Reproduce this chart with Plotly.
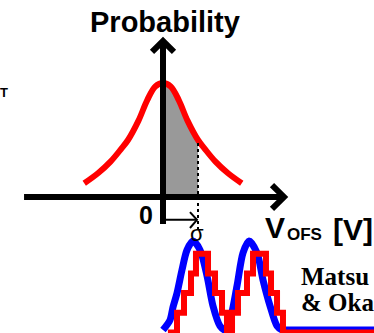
import plotly.graph_objects as go

# ---------------- Data ----------------
# Probability distribution of the offset voltage: V_OFS in units of sigma, relative probability
vofs_sigma = [-2.25, -1.85, -1.5, -1.2, -1.0, -0.7, -0.45, -0.22, 0.0,
              0.22, 0.45, 0.7, 1.0, 1.2, 1.5, 1.85, 2.25]
probability = [0.12, 0.21, 0.31, 0.42, 0.5, 0.67, 0.85, 0.97, 1.0,
               0.97, 0.85, 0.67, 0.5, 0.42, 0.31, 0.21, 0.12]
sigma = 1.0

# Analog waveform (blue) and its quantized staircase (red): time [a.u.], level [LSB]
t_analog = [0.0, 1.0, 1.43, 2.0, 2.71, 3.43, 4.29, 5.29, 6.29, 7.14, 8.14, 8.86,
            9.57, 10.57, 11.43, 12.29, 13.43, 14.29, 15.29, 16.29, 17.0, 18.0, 30.2]
v_analog = [0.13, 0.63, 1.29, 2.0, 3.17, 4.19, 4.64, 4.19, 2.87, 1.35, 0.33, 0.13,
            0.63, 2.36, 4.04, 4.64, 4.04, 2.66, 1.35, 0.33, 0.13, 0.13, 0.13]
t_steps = [0.7, 2.0, 3.0, 4.0, 4.71, 6.43, 7.43, 8.43, 9.14, 9.86, 10.71, 12.0,
           12.86, 14.71, 15.43, 16.29, 17.14, 30.2]
v_steps = [0, 1, 2, 3, 4, 3, 2, 1, 0, 1, 2, 3, 4, 3, 2, 1, 0, 0]

# ---------------- Figure ----------------
W, H = 374, 333
BLACK, RED, BLUE, GRAY = "#000000", "#FF0000", "#0000FF", "#999999"
SANS = "Liberation Sans, Arial, sans-serif"
SERIF = "Liberation Serif, Times New Roman, serif"

shade_x = [v for v in vofs_sigma if 0 <= v <= sigma]
shade_y = [p for v, p in zip(vofs_sigma, probability) if 0 <= v <= sigma]
p_at_sigma = probability[vofs_sigma.index(sigma)]

fig = go.Figure()
fig.add_trace(go.Scatter(x=shade_x, y=shade_y, mode="lines", fill="tozeroy",
                         fillcolor=GRAY, line=dict(width=0, shape="spline"),
                         hoverinfo="skip", showlegend=False))
fig.add_trace(go.Scatter(x=vofs_sigma, y=probability, mode="lines",
                         line=dict(color=RED, width=6, shape="spline"),
                         showlegend=False))
fig.add_trace(go.Scatter(x=t_analog, y=v_analog, mode="lines", xaxis="x2", yaxis="y2",
                         line=dict(color=BLUE, width=7, shape="spline", smoothing=0.8),
                         showlegend=False))
fig.add_trace(go.Scatter(x=t_steps, y=v_steps, mode="lines", xaxis="x2", yaxis="y2",
                         line=dict(color=RED, width=6, shape="hv"),
                         showlegend=False))

def seg(x0, y0, x1, y1, w, dash="solid"):
    return dict(type="line", xref="x", yref="y", x0=x0, y0=y0, x1=x1, y1=y1,
                line=dict(color=BLACK, width=w, dash=dash), layer="above")

def chevron(pts, w):
    path = "M" + " L".join(f"{a},{b}" for a, b in pts)
    return dict(type="path", xref="x", yref="y", path=path,
                line=dict(color=BLACK, width=w), layer="above")

shapes = [
    seg(sigma, -0.289, sigma, p_at_sigma, 2, "dot"),          # sigma marker
    seg(-3.97, 0, 3.44, 0, 6),                                 # V_OFS axis
    chevron([(3.114, 0.105), (3.457, 0), (3.114, -0.105)], 6),
    seg(0, -0.237, 0, 1.35, 6),                                # probability axis
    chevron([(-0.314, 1.272), (0, 1.368), (0.314, 1.272)], 6),
    seg(0.03, -0.2, sigma - 0.04, -0.2, 2),                    # small sigma arrow
    chevron([(0.771, -0.132), (0.971, -0.2), (0.771, -0.272)], 2),
]

def ann(text, x, y, size, family=SANS, xanchor="center", color=BLACK):
    return dict(text=text, x=x / W, y=1 - y / H, xref="paper", yref="paper",
                xanchor=xanchor, yanchor="middle", showarrow=False, borderpad=0,
                font=dict(size=size, family=family, color=color))

annotations = [
    ann("<b>Probability</b>", 164.5, 22, 29),
    ann("<b>0</b>", 145.5, 215, 25),
    ann("σ", 197, 233, 22),
    ann("<b>V</b>", 264, 227, 30, xanchor="left"),
    ann("<b>OFS</b>", 286, 234, 17, xanchor="left"),
    ann("<b>[V]</b>", 332, 229, 30, xanchor="left"),
    ann("<b>Matsu</b>", 300, 276, 25, family=SERIF, xanchor="left"),
    ann("<b>&amp; Oka</b>", 300, 302, 25, family=SERIF, xanchor="left"),
    ann("<b>T</b>", 4, 92, 13),
]

fig.update_layout(
    width=W, height=H, autosize=False,
    margin=dict(l=0, r=0, t=0, b=0, pad=0),
    paper_bgcolor="white", plot_bgcolor="white",
    xaxis=dict(domain=[0, 1], range=[-163 / 35, 211 / 35], visible=False, fixedrange=True),
    yaxis=dict(domain=[0, 1], range=[-136 / 114, 197 / 114], visible=False, fixedrange=True),
    xaxis2=dict(overlaying="x", anchor="y2", range=[-163 / 7, 211 / 7], visible=False),
    yaxis2=dict(overlaying="y", anchor="x2", range=[-0.5 / 19.7, 332.5 / 19.7], visible=False),
    shapes=shapes,
    annotations=annotations,
    showlegend=False,
)

fig.write_html("out.html", config={"displayModeBar": False, "staticPlot": True},
               post_script="document.body.style.margin='0';document.body.style.overflow='hidden';")
